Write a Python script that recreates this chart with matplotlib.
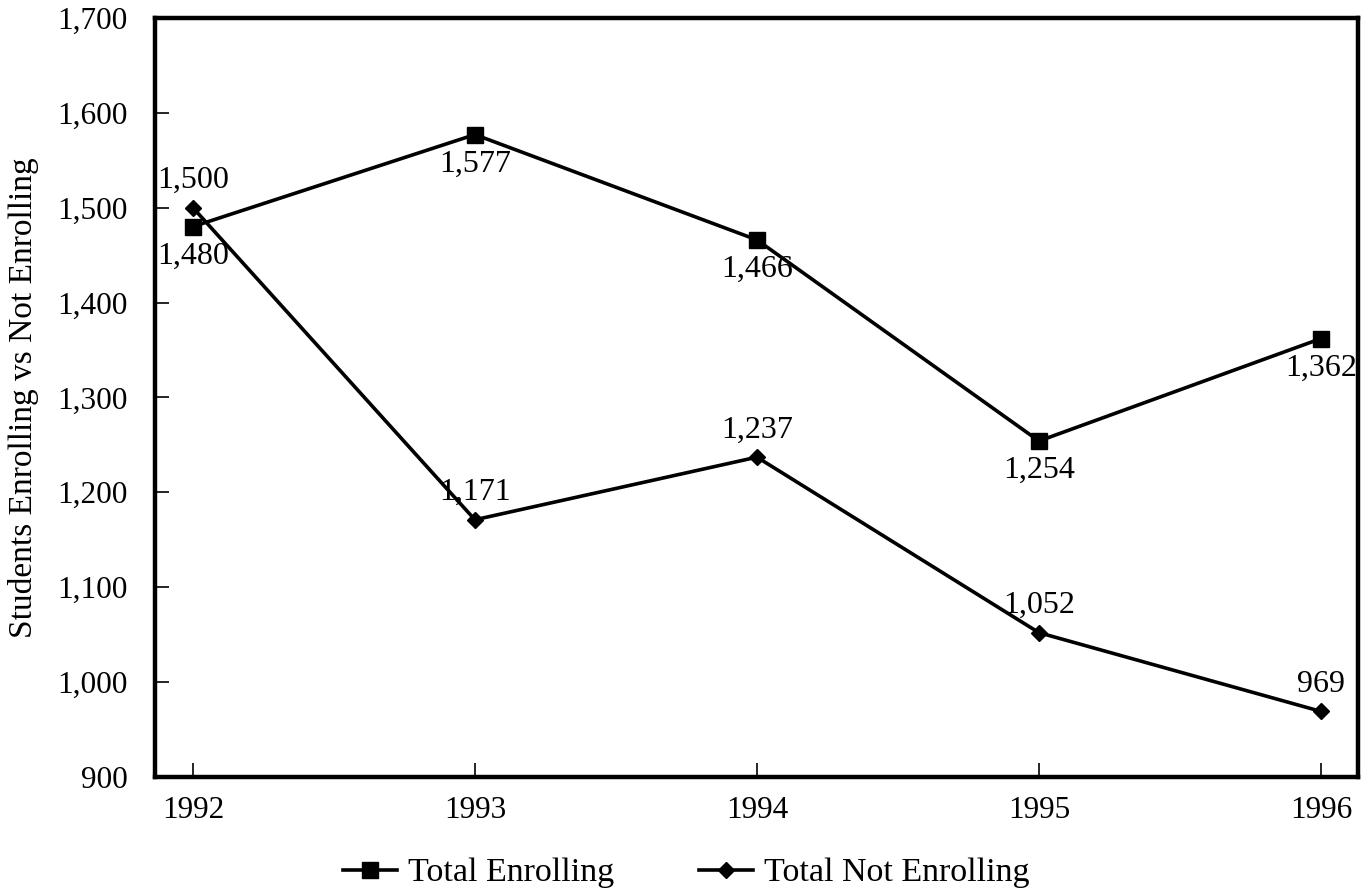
import matplotlib.pyplot as plt
from matplotlib.ticker import FuncFormatter

plt.rcParams['font.family'] = ['Liberation Serif', 'DejaVu Serif']

years = [1992, 1993, 1994, 1995, 1996]
enrolling = [1480, 1577, 1466, 1254, 1362]
not_enrolling = [1500, 1171, 1237, 1052, 969]

fig = plt.figure(figsize=(13.7, 8.94), dpi=100)
ax = fig.add_axes([0.113, 0.131, 0.878, 0.849])

ax.plot(years, enrolling, color='black', lw=2.6, marker='s', ms=11,
        label='Total Enrolling')
ax.plot(years, not_enrolling, color='black', lw=2.6, marker='D', ms=8.5,
        label='Total Not Enrolling')

# labels: enrolling below the point, not enrolling above
for x, y in zip(years, enrolling):
    ax.annotate(f'{y:,}', (x, y), xytext=(0, -11), textcoords='offset points',
                ha='center', va='top', fontsize=23)
for x, y in zip(years, not_enrolling):
    ax.annotate(f'{y:,}', (x, y), xytext=(0, 9), textcoords='offset points',
                ha='center', va='bottom', fontsize=23)

ax.set_xlim(1991.865, 1996.13)
ax.set_ylim(900, 1700)
ax.set_xticks(years)
ax.set_yticks(range(900, 1701, 100))
ax.yaxis.set_major_formatter(FuncFormatter(lambda v, p: f'{int(v):,}'))
ax.tick_params(direction='in', length=10, width=1.2, labelsize=22.5)
ax.tick_params(axis='x', pad=14)
ax.tick_params(axis='y', pad=19.5)
for s in ax.spines.values():
    s.set_linewidth(3.2)

ax.set_ylabel('Students Enrolling vs Not Enrolling', fontsize=24, labelpad=13)

fig.legend(*ax.get_legend_handles_labels(), loc='center left',
           bbox_to_anchor=(343 / 1370, 1 - 873 / 894), ncol=2,
           frameon=False, fontsize=24.5, handlelength=1.6, columnspacing=2.5,
           handletextpad=0.3, borderpad=0, borderaxespad=0)

fig.savefig('out.png', dpi=100)
